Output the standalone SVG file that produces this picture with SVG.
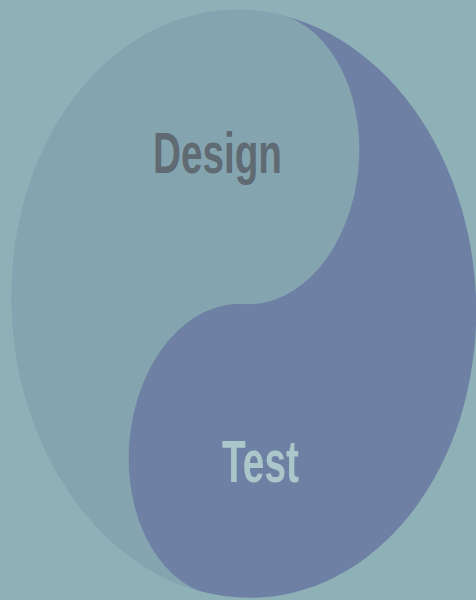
<svg xmlns="http://www.w3.org/2000/svg" width="476" height="600" viewBox="0 0 476 600">
<style>
.lbl{font-family:"Liberation Sans",Arial,sans-serif;font-weight:bold;}
</style>
<rect width="476" height="600" fill="#8eb1b7"/>
<g id="dark-test">
<ellipse cx="244" cy="304" rx="232" ry="294" transform="rotate(-3 244 304)" fill="#6e80a4"/>
</g>
<g id="light-design">
<path d="M268,12 A232,294 -3 0 0 220,596 A104,146.5 4.7 0 1 244,304 A104,146.5 4.7 0 0 268,12 Z" fill="#84a5b0"/>
</g>
<g id="connectors"></g>
<g id="label-design">
<text class="lbl" x="153" y="173" font-size="57" textLength="129" lengthAdjust="spacingAndGlyphs" fill="#5f6a72">Design</text>
</g>
<g id="label-test">
<text class="lbl" x="222" y="482" font-size="60" textLength="77" lengthAdjust="spacingAndGlyphs" fill="#abc7ca">Test</text>
</g>
</svg>
